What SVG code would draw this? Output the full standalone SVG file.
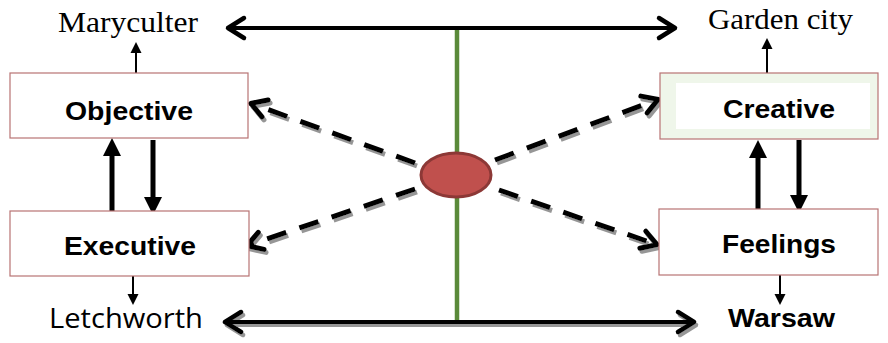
<svg xmlns="http://www.w3.org/2000/svg" width="888" height="343" viewBox="0 0 888 343">
<style>
.box{fill:#fff;stroke:#B87373;stroke-width:1.2}
.lbl{font-family:"Liberation Sans",Arial,sans-serif;font-weight:bold;font-size:26px;fill:#000}
.place{font-family:"Liberation Serif","Times New Roman",serif;font-size:30px;fill:#000}
.sans{font-family:"Open Sans","Liberation Sans",sans-serif;font-size:27px;fill:#000}
.thin{stroke:#000;stroke-width:2;fill:none}
.thick{stroke:#000;stroke-width:5;fill:none}
.long{stroke:#000;stroke-width:4;fill:none}
.dash{stroke:#000;stroke-width:5;fill:none;stroke-dasharray:20 14}
</style>
<defs>
<marker id="tri" markerUnits="userSpaceOnUse" viewBox="-1 -7 14 14" refX="0" refY="0" markerWidth="14" markerHeight="14" orient="auto" overflow="visible">
<path d="M0,-5.5 L11,0 L0,5.5 z" fill="#000"/>
</marker>
<marker id="big" markerUnits="userSpaceOnUse" viewBox="-1 -10 20 20" refX="0" refY="0" markerWidth="20" markerHeight="20" orient="auto" overflow="visible">
<path d="M0,-9 L18,0 L0,9 z" fill="#000"/>
</marker>
<marker id="chev" markerUnits="userSpaceOnUse" viewBox="-20 -15 25 30" refX="0" refY="0" markerWidth="25" markerHeight="30" orient="auto-start-reverse" overflow="visible">
<path d="M-17,-10 L-1,0 L-17,10" fill="none" stroke="#000" stroke-width="4.5" stroke-linecap="round" stroke-linejoin="round"/>
</marker>
<marker id="dchev" markerUnits="userSpaceOnUse" viewBox="-20 -15 25 30" refX="0" refY="0" markerWidth="25" markerHeight="30" orient="auto" overflow="visible">
<path d="M-16,-9 L-1,0 L-16,9" fill="none" stroke="#000" stroke-width="5" stroke-linecap="round" stroke-linejoin="round"/>
</marker>
<filter id="sh" x="-10%" y="-50%" width="120%" height="200%">
<feDropShadow dx="2" dy="3" stdDeviation="0.6" flood-color="#8a8a8a" flood-opacity="0.9"/>
</filter>
</defs>

<g id="connectors">
<line x1="457" y1="28" x2="457" y2="322" stroke="#5A8A3A" stroke-width="4.5"/>
<line class="long" x1="227" y1="28" x2="676" y2="28" marker-start="url(#chev)" marker-end="url(#chev)"/>
<g filter="url(#sh)">
<line class="long" x1="224" y1="322" x2="695" y2="322" marker-start="url(#chev)" marker-end="url(#chev)"/>
<line class="dash" x1="415" y1="163" x2="250" y2="103" marker-end="url(#dchev)"/>
<line class="dash" x1="495" y1="160" x2="659" y2="99" marker-end="url(#dchev)"/>
<line class="dash" x1="415" y1="189" x2="246" y2="246" marker-end="url(#dchev)"/>
<line class="dash" x1="499" y1="190" x2="658" y2="245" marker-end="url(#dchev)"/>
</g>
<line class="thin" x1="136" y1="73" x2="136" y2="53" marker-end="url(#tri)"/>
<line class="thin" x1="767" y1="73" x2="767" y2="49" marker-end="url(#tri)"/>
<line class="thin" x1="133" y1="276" x2="133" y2="294" marker-end="url(#tri)"/>
<line class="thin" x1="780" y1="275" x2="780" y2="294" marker-end="url(#tri)"/>
<line class="thick" x1="112" y1="212" x2="112" y2="156" marker-end="url(#big)"/>
<line class="thick" x1="153" y1="140" x2="153" y2="197" marker-end="url(#big)"/>
<line class="thick" x1="758" y1="209" x2="758" y2="158" marker-end="url(#big)"/>
<line class="thick" x1="799" y1="140" x2="799" y2="195" marker-end="url(#big)"/>
</g>

<g id="hub">
<ellipse cx="456" cy="175" rx="35" ry="22" fill="#C0504D" stroke="#8C3836" stroke-width="3"/>
</g>

<g id="objective">
<rect class="box" x="10" y="73" width="238" height="65"/>
<text class="lbl" x="65" y="120" textLength="128" lengthAdjust="spacingAndGlyphs">Objective</text>
</g>
<g id="creative">
<rect class="box" x="660" y="73" width="218" height="66" style="fill:#EFF6EA"/>
<rect x="676" y="83" width="194" height="46" fill="#fff"/>
<text class="lbl" x="723" y="118" textLength="112" lengthAdjust="spacingAndGlyphs">Creative</text>
</g>
<g id="executive">
<rect class="box" x="10" y="211" width="239" height="65"/>
<text class="lbl" x="64" y="255" textLength="132" lengthAdjust="spacingAndGlyphs">Executive</text>
</g>
<g id="feelings">
<rect class="box" x="659" y="209" width="219" height="66"/>
<text class="lbl" x="722" y="253" textLength="114" lengthAdjust="spacingAndGlyphs">Feelings</text>
</g>
<g id="maryculter">
<text class="place" x="58" y="32" textLength="140" lengthAdjust="spacingAndGlyphs">Maryculter</text>
</g>
<g id="gardencity">
<text class="place" x="708" y="29" textLength="145" lengthAdjust="spacingAndGlyphs">Garden city</text>
</g>
<g id="letchworth">
<text class="sans" x="49" y="328" textLength="154" lengthAdjust="spacingAndGlyphs">Letchworth</text>
</g>
<g id="warsaw">
<text class="lbl" x="728" y="327" textLength="107" lengthAdjust="spacingAndGlyphs">Warsaw</text>
</g>
</svg>
